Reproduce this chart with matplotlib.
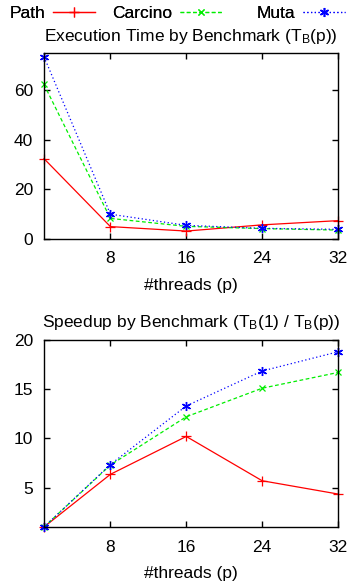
import matplotlib
matplotlib.use("Agg")
import matplotlib.pyplot as plt
from matplotlib.lines import Line2D

plt.rcParams['font.family'] = ['Liberation Sans', 'DejaVu Sans']
plt.rcParams['font.size'] = 12.5
plt.rcParams['mathtext.fontset'] = 'custom'
plt.rcParams['mathtext.rm'] = 'Liberation Sans'
plt.rcParams['mathtext.it'] = 'Liberation Sans'

threads = [1, 8, 16, 24, 32]
series_names = ["Path", "Carcino", "Muta"]

time_path = [32.4, 5.0, 3.2, 5.7, 7.4]
time_carcino = [62.3, 8.3, 5.1, 4.2, 3.6]
time_muta = [73.5, 10.0, 5.5, 4.3, 3.9]

speedup_path = [1.0, 6.35, 10.2, 5.7, 4.35]
speedup_carcino = [1.0, 7.3, 12.2, 15.1, 16.7]
speedup_muta = [1.0, 7.35, 13.3, 16.85, 18.8]

xticks = [8, 16, 24, 32]
time_yticks = [0, 20, 40, 60]
speed_yticks = [5, 10, 15, 20]

FS = 12.5
styles = [
    dict(color='#ff0000', linestyle='-', marker='+', markersize=7, linewidth=0.9, markeredgewidth=0.9),
    dict(color='#00ee00', linestyle=(0, (3, 2)), marker='x', markersize=5, linewidth=0.9, markeredgewidth=0.9),
    dict(color='#0000ff', linestyle=(0, (1, 2)), marker=(6, 2, 0), markersize=6.5, linewidth=0.9, markeredgewidth=1.0),
]

fig = plt.figure(figsize=(3.48, 5.83), dpi=100)
ax1 = fig.add_axes([44/348, 1-239/583, 294/348, 186/583])
ax2 = fig.add_axes([44/348, 1-527/583, 294/348, 187/583])

for y, st in zip([time_path, time_carcino, time_muta], styles):
    ax1.plot(threads, y, clip_on=False, **st)
for y, st in zip([speedup_path, speedup_carcino, speedup_muta], styles):
    ax2.plot(threads, y, clip_on=False, **st)

ax1.set_xlim(1, 32)
ax1.set_ylim(0, 75)
ax1.set_yticks(time_yticks)
ax2.set_xlim(1, 32)
ax2.set_ylim(1, 20)
ax2.set_yticks(speed_yticks)

for ax in (ax1, ax2):
    ax.set_xticks(xticks)
    ax.set_xticklabels([str(t) for t in xticks])
    ax.tick_params(direction='in', length=4, width=1, top=True, right=True, labelsize=FS)
    ax.tick_params(axis='x', pad=9)
    ax.tick_params(axis='y', pad=8)
    for s in ax.spines.values():
        s.set_linewidth(1.0)
    ax.set_xlabel('#threads (p)', fontsize=FS, labelpad=8)

ax1.set_title(r'Execution Time by Benchmark (T$_\mathrm{B}$(p))', fontsize=FS, pad=8.5)
ax2.set_title(r'Speedup by Benchmark (T$_\mathrm{B}$(1) / T$_\mathrm{B}$(p))', fontsize=FS, pad=9)

# gnuplot-style key: right-justified text followed by line sample
legend_right_px = [95, 222, 345]
for name, st, xr in zip(series_names, styles, legend_right_px):
    h = Line2D([], [], **st)
    leg = fig.legend([h], [name], loc='center right', bbox_to_anchor=(xr/348, 1-13/583),
                     frameon=False, markerfirst=False, handlelength=2.4,
                     handletextpad=0.45, fontsize=FS, borderpad=0, borderaxespad=0)
    fig.add_artist(leg)

fig.savefig('out.png', dpi=100)
